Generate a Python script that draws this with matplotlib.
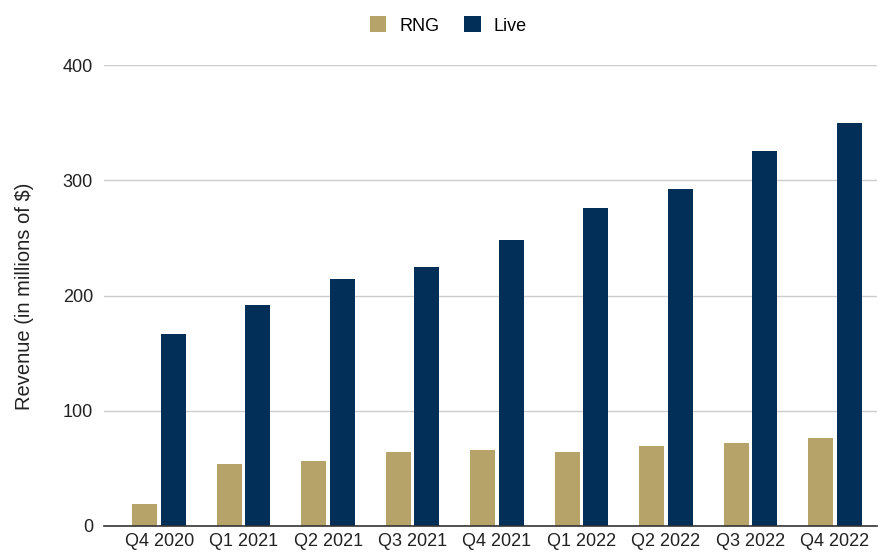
import matplotlib.pyplot as plt
import numpy as np

plt.rcParams['font.family'] = ['Liberation Sans', 'DejaVu Sans']

# Données (en millions de $)
quarters = ['Q4 2020', 'Q1 2021', 'Q2 2021', 'Q3 2021', 'Q4 2021',
            'Q1 2022', 'Q2 2022', 'Q3 2022', 'Q4 2022']
rng = [19, 54, 56, 64, 66, 64, 69, 72, 76]
live = [167, 192, 214, 225, 248, 276, 292, 325, 350]

rng_color = '#b5a36a'
live_color = '#012f57'

fig = plt.figure(figsize=(8.79, 5.54), dpi=100)
ax = fig.add_axes([104 / 879, 28 / 554, 773 / 879, 461 / 554])

x = np.arange(len(quarters))
width = 0.296
offset = 0.169

ax.bar(x - offset, rng, width, color=rng_color, label='RNG', zorder=3)
ax.bar(x + offset, live, width, color=live_color, label='Live', zorder=3)

# Axes et grille
ax.set_ylim(0, 400)
ax.set_xlim(-0.654, 8.5)
ax.set_yticks([0, 100, 200, 300, 400])
ax.set_xticks(x)
ax.set_xticklabels(quarters)
ax.tick_params(axis='both', length=0, labelsize=13, colors='#222222')
ax.tick_params(axis='y', pad=8)
ax.tick_params(axis='x', pad=5)
ax.grid(axis='y', color='#cccccc', linewidth=1, zorder=0)
for side in ['top', 'right', 'left']:
    ax.spines[side].set_visible(False)
ax.spines['bottom'].set_color('#333333')
ax.spines['bottom'].set_linewidth(1.2)
ax.spines['bottom'].set_zorder(4)

ax.set_ylabel('Revenue (in millions of $)', fontsize=14.5, color='#222222')
ax.yaxis.set_label_coords(-0.0906, 0.498)

# Légende en haut
fig.legend(loc='upper center', bbox_to_anchor=(0.51, 1.0), ncol=2, frameon=False,
           fontsize=13, handlelength=0.9, handleheight=1.0, columnspacing=1.4,
           handletextpad=0.72)

plt.savefig('out.png', dpi=100)
